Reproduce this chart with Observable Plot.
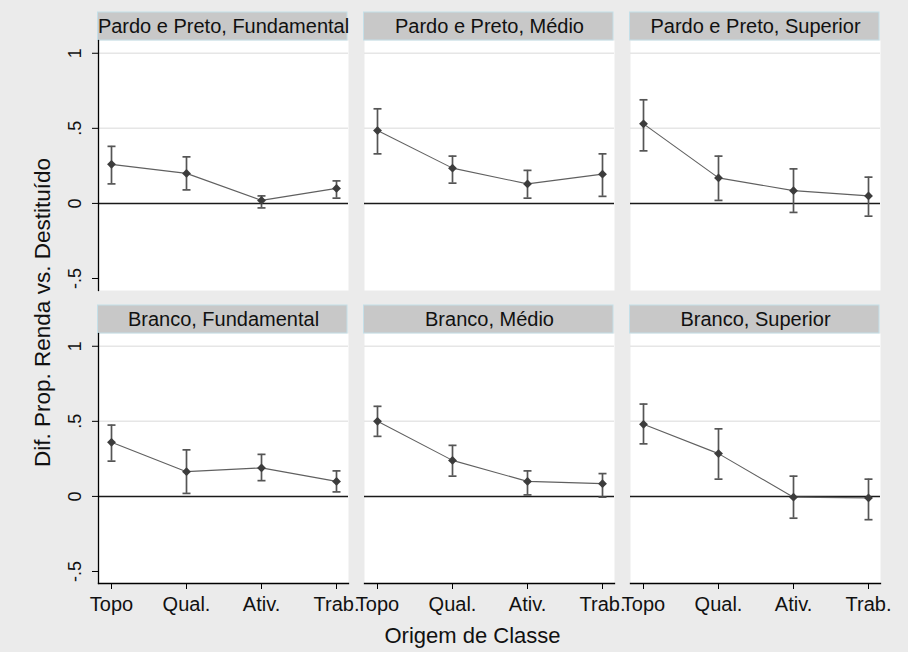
<!DOCTYPE html>
<html><head><meta charset="utf-8">
<script src="https://cdn.jsdelivr.net/npm/d3@7"></script>
<script src="https://cdn.jsdelivr.net/npm/@observablehq/plot@0.6"></script>
<style>
body{margin:0;background:#ebebeb;}
#chart svg{display:block;}
</style>
</head><body><div id="chart"></div>
<script>
// ---- data ----
const categories = ["Topo", "Qual.", "Ativ.", "Trab."];
const panels = [
  "Pardo e Preto, Fundamental", "Pardo e Preto, Médio", "Pardo e Preto, Superior",
  "Branco, Fundamental", "Branco, Médio", "Branco, Superior"
];
const estPPFund = [0.26, 0.20, 0.02, 0.10];
const loPPFund  = [0.13, 0.09, -0.03, 0.035];
const hiPPFund  = [0.38, 0.31, 0.05, 0.15];
const estPPMed  = [0.485, 0.235, 0.13, 0.195];
const loPPMed   = [0.33, 0.135, 0.035, 0.047];
const hiPPMed   = [0.63, 0.315, 0.22, 0.33];
const estPPSup  = [0.53, 0.17, 0.085, 0.05];
const loPPSup   = [0.35, 0.02, -0.06, -0.085];
const hiPPSup   = [0.69, 0.315, 0.23, 0.175];
const estBFund  = [0.36, 0.165, 0.19, 0.10];
const loBFund   = [0.235, 0.02, 0.105, 0.03];
const hiBFund   = [0.475, 0.31, 0.28, 0.17];
const estBMed   = [0.50, 0.24, 0.10, 0.085];
const loBMed    = [0.40, 0.135, 0.01, -0.005];
const hiBMed    = [0.60, 0.34, 0.17, 0.152];
const estBSup   = [0.48, 0.285, -0.005, -0.01];
const loBSup    = [0.35, 0.115, -0.145, -0.155];
const hiBSup    = [0.615, 0.45, 0.135, 0.115];
const yTicks = [-0.5, 0, 0.5, 1];
const gridTicks = [0.5, 1];
const yTitle = "Dif. Prop. Renda vs. Destituído";
const xTitle = "Origem de Classe";

// ---- build table ----
const est = [estPPFund, estPPMed, estPPSup, estBFund, estBMed, estBSup];
const lo  = [loPPFund, loPPMed, loPPSup, loBFund, loBMed, loBSup];
const hi  = [hiPPFund, hiPPMed, hiPPSup, hiBFund, hiBMed, hiBSup];
const rows = [];
panels.forEach((p, i) => categories.forEach((c, j) => rows.push({
  panel: p, col: i % 3, row: Math.floor(i / 3), cat: c,
  est: est[i][j], lo: lo[i][j], hi: hi[i][j]
})));
const panelData = panels.map((p, i) => ({panel: p, col: i % 3, row: Math.floor(i / 3)}));

// ---- layout ----
const W = 908, H = 652;
const mL = 98, mR = 28, mT = 40, mB = 69;
const panelW = 250, panelH = 250, headerH = 28;
const gapX = 16, gapY = 43;
const font = "'Liberation Sans', Arial, sans-serif";

const capSymbol = {draw(ctx, size) { const r = Math.sqrt(size / Math.PI); ctx.moveTo(-r, 0); ctx.lineTo(r, 0); }};
const fmt = d => d === 0 ? "0" : String(d).replace("0.", ".");

const chart = Plot.plot({
  width: W, height: H,
  marginLeft: mL, marginRight: mR, marginTop: mT, marginBottom: mB,
  style: {fontFamily: font, background: "#ebebeb", color: "#111"},
  fx: {axis: null, paddingInner: gapX / (panelW + gapX), paddingOuter: 0},
  fy: {axis: null, paddingInner: gapY / (panelH + gapY), paddingOuter: 0},
  x: {type: "point", domain: categories, padding: 0.16},
  y: {domain: [-0.58, 1.085]},
  marks: [
    Plot.frame({fill: "white", stroke: "none"}),
    Plot.ruleY(gridTicks, {stroke: "#e6e6e6", strokeWidth: 1.5}),
    Plot.ruleY([0], {stroke: "#1a1a1a", strokeWidth: 1.5}),
    Plot.rect(panelData, {fx: "col", fy: "row", fill: "#c8c8c8", stroke: "#c4dfe8", strokeWidth: 1,
      insetTop: -headerH, insetBottom: panelH, insetLeft: -0.5, insetRight: 1}),
    Plot.text(panelData, {fx: "col", fy: "row", text: "panel", frameAnchor: "top", dy: -headerH / 2,
      lineAnchor: "middle", fontSize: 20, fill: "#111"}),
    Plot.frame({anchor: "left", facetAnchor: "left", stroke: "#000", strokeWidth: 1.3}),
    Plot.frame({anchor: "bottom", facetAnchor: "bottom", stroke: "#000", strokeWidth: 1.3}),
    Plot.axisY({ticks: yTicks, tickFormat: fmt, tickRotate: -90, tickSize: 6, tickPadding: 12,
      textAnchor: "middle", lineAnchor: "bottom", fontSize: 18, label: null, stroke: "#000"}),
    Plot.axisX({tickSize: 6, tickPadding: 7, fontSize: 20, label: null, stroke: "#000"}),
    Plot.line(rows, {fx: "col", fy: "row", x: "cat", y: "est", z: "panel", stroke: "#606060", strokeWidth: 1.1}),
    Plot.ruleX(rows, {fx: "col", fy: "row", x: "cat", y1: "lo", y2: "hi", stroke: "#555", strokeWidth: 1.7}),
    Plot.dot(rows, {fx: "col", fy: "row", x: "cat", y: "lo", symbol: capSymbol, r: 4, stroke: "#555", fill: "none", strokeWidth: 1.7}),
    Plot.dot(rows, {fx: "col", fy: "row", x: "cat", y: "hi", symbol: capSymbol, r: 4, stroke: "#555", fill: "none", strokeWidth: 1.7}),
    Plot.dot(rows, {fx: "col", fy: "row", x: "cat", y: "est", symbol: "diamond2", r: 4, fill: "#3c3c3c", stroke: "none"}),
    Plot.text([yTitle], {fx: 0, fy: 0, frameAnchor: "bottom-left", dx: -56, dy: 22, rotate: -90,
      textAnchor: "middle", lineAnchor: "middle", fontSize: 22.5, fill: "#111", text: d => d}),
    Plot.text([xTitle], {fx: 1, fy: 1, frameAnchor: "bottom", dx: -17, dy: 52,
      textAnchor: "middle", lineAnchor: "middle", fontSize: 22, fill: "#111", text: d => d})
  ]
});
document.getElementById("chart").append(chart);
</script>
</body></html>
